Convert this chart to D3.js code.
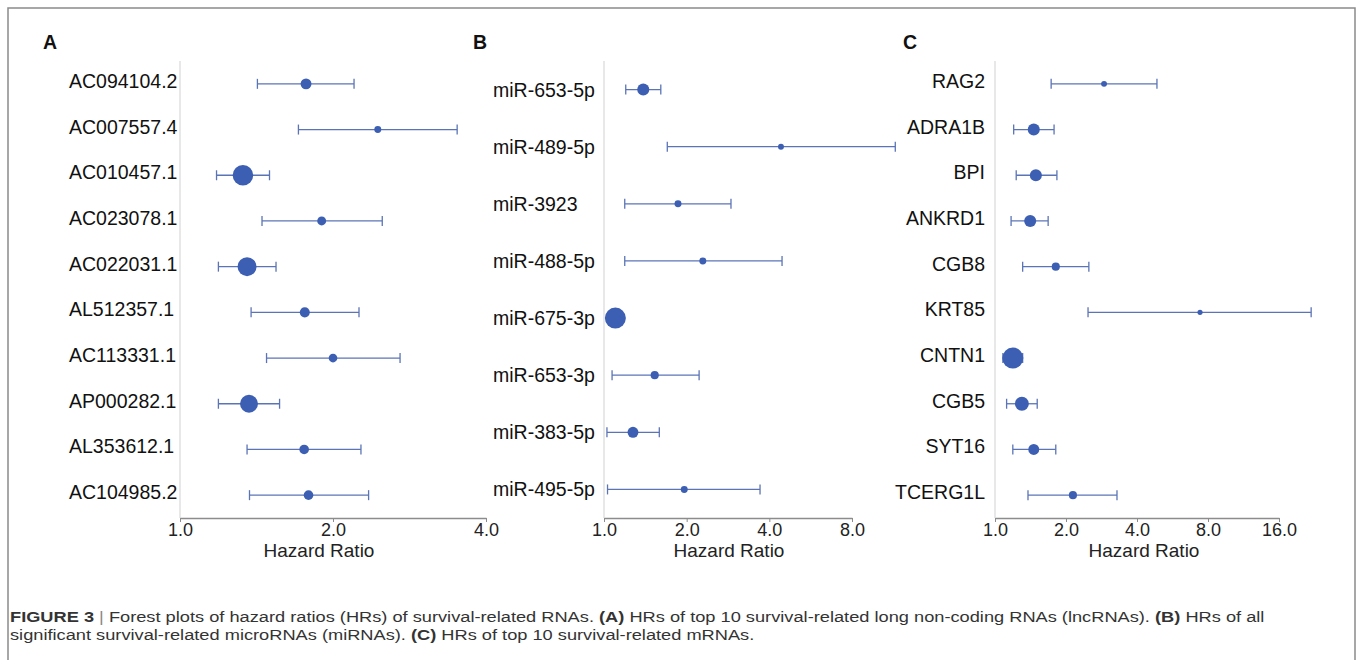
<!DOCTYPE html>
<html>
<head>
<meta charset="utf-8">
<script src="https://cdn.jsdelivr.net/npm/d3@7"></script>
<style>
  body { margin: 0; background: #fff; }
  text { font-family: "Liberation Sans", Arial, sans-serif; }
</style>
</head>
<body>
<script>
// panel A - lncRNAs
const lncNames = ['AC094104.2', 'AC007557.4', 'AC010457.1', 'AC023078.1', 'AC022031.1',
                  'AL512357.1', 'AC113331.1', 'AP000282.1', 'AL353612.1', 'AC104985.2'];
const lncHR    = [1.77, 2.45, 1.33, 1.90, 1.355, 1.76, 2.00, 1.367, 1.755, 1.79];
const lncLow   = [1.42, 1.71, 1.18, 1.45, 1.19, 1.38, 1.48, 1.19, 1.355, 1.37];
const lncHigh  = [2.20, 3.51, 1.50, 2.50, 1.545, 2.25, 2.71, 1.57, 2.27, 2.35];
const lncWeight = [27, 11, 96, 18, 82, 23, 17, 73, 21, 21];

// panel B - miRNAs
const mirNames = ['miR-653-5p', 'miR-489-5p', 'miR-3923', 'miR-488-5p',
                  'miR-675-3p', 'miR-653-3p', 'miR-383-5p', 'miR-495-5p'];
const mirHR    = [1.39, 4.41, 1.86, 2.29, 1.10, 1.53, 1.275, 1.96];
const mirLow   = [1.20, 1.70, 1.19, 1.19, 1.05, 1.07, 1.025, 1.03];
const mirHigh  = [1.61, 11.5, 2.90, 4.45, 1.15, 2.22, 1.59, 3.70];
const mirWeight = [33, 8, 11, 11, 100, 15, 27, 11];

// panel C - mRNAs
const mrnaNames = ['RAG2', 'ADRA1B', 'BPI', 'ANKRD1', 'CGB8',
                   'KRT85', 'CNTN1', 'CGB5', 'SYT16', 'TCERG1L'];
const mrnaHR    = [2.90, 1.46, 1.49, 1.41, 1.81, 7.40, 1.19, 1.30, 1.46, 2.14];
const mrnaLow   = [1.73, 1.20, 1.23, 1.17, 1.31, 2.48, 1.08, 1.12, 1.19, 1.38];
const mrnaHigh  = [4.86, 1.78, 1.83, 1.68, 2.50, 21.9, 1.31, 1.51, 1.81, 3.29];
const mrnaWeight = [8, 33, 33, 33, 15, 6, 100, 44, 27, 15];

// axis ticks
const ticksA = [1, 2, 4];
const ticksB = [1, 2, 4, 8];
const ticksC = [1, 2, 4, 8, 16];

const W = 1357, H = 660;
const svg = d3.select('body').append('svg').attr('width', W).attr('height', H);

// frame
svg.append('path')
   .attr('d', 'M8,' + H + 'V8H1355V' + H)
   .attr('fill', 'none').attr('stroke', '#8a8a8a').attr('stroke-width', 1.5);

const plotTop = 61, axisY = 518;
const dotColor = '#3c5fb3', barColor = '#5b74b6';
const r = d3.scaleSqrt().domain([0, 100]).range([0, 10.5]);

const panels = [
  {letter: 'A', lx: 43, names: lncNames, hr: lncHR, lo: lncLow, hi: lncHigh, w: lncWeight,
   ticks: ticksA, x0: 180, x1: 486, labelX: 69, anchor: 'start', dy: 4, titleX: 319},
  {letter: 'B', lx: 473, names: mirNames, hr: mirHR, lo: mirLow, hi: mirHigh, w: mirWeight,
   ticks: ticksB, x0: 604, x1: 852, labelX: 493, anchor: 'start', dy: 7, titleX: 729},
  {letter: 'C', lx: 903, names: mrnaNames, hr: mrnaHR, lo: mrnaLow, hi: mrnaHigh, w: mrnaWeight,
   ticks: ticksC, x0: 995, x1: 1279, labelX: 985, anchor: 'end', dy: 4, titleX: 1144}
];

panels.forEach(p => {
  const g = svg.append('g');
  const x = d3.scaleLog().base(2).domain([p.ticks[0], p.ticks[p.ticks.length - 1]]).range([p.x0, p.x1]);
  const y = d3.scalePoint().domain(p.names).range([plotTop, axisY]).padding(0.5);
  const rows = p.names.map((n, i) => ({name: n, hr: p.hr[i], lo: p.lo[i], hi: p.hi[i], w: p.w[i]}));

  g.append('text').attr('x', p.lx).attr('y', 49)
   .attr('font-size', 19.5).attr('font-weight', 'bold').attr('fill', '#111')
   .text(p.letter);

  // reference line at HR = 1
  g.append('line')
   .attr('x1', x(1)).attr('x2', x(1)).attr('y1', plotTop).attr('y2', axisY)
   .attr('stroke', '#d9d9d9').attr('stroke-width', 1.2);

  // row labels
  g.selectAll('.lab').data(rows).join('text')
   .attr('class', 'lab')
   .attr('x', p.labelX).attr('y', d => y(d.name) + p.dy)
   .attr('text-anchor', p.anchor)
   .attr('font-size', 19.5).attr('fill', '#111')
   .text(d => d.name);

  // confidence intervals
  const ci = g.selectAll('.ci').data(rows).join('g').attr('class', 'ci')
              .attr('stroke', barColor).attr('stroke-width', 1.3);
  ci.append('line').attr('x1', d => x(d.lo)).attr('x2', d => x(d.hi))
    .attr('y1', d => y(d.name)).attr('y2', d => y(d.name));
  ci.append('line').attr('x1', d => x(d.lo)).attr('x2', d => x(d.lo))
    .attr('y1', d => y(d.name) - 5).attr('y2', d => y(d.name) + 5);
  ci.append('line').attr('x1', d => x(d.hi)).attr('x2', d => x(d.hi))
    .attr('y1', d => y(d.name) - 5).attr('y2', d => y(d.name) + 5);

  // point estimates
  g.selectAll('.dot').data(rows).join('circle')
   .attr('class', 'dot')
   .attr('cx', d => x(d.hr)).attr('cy', d => y(d.name))
   .attr('r', d => r(d.w))
   .attr('fill', dotColor);

  // x axis
  const ax = g.append('g').attr('transform', 'translate(0,' + axisY + ')')
    .call(d3.axisBottom(x).tickValues(p.ticks).tickFormat(d3.format('.1f'))
            .tickSize(4).tickSizeOuter(0).tickPadding(1));
  ax.select('.domain').attr('stroke', '#8c8c8c').attr('stroke-width', 1.3);
  ax.selectAll('.tick line').attr('stroke', '#8c8c8c');
  ax.selectAll('.tick text').attr('font-size', 18).attr('fill', '#222')
    .attr('font-family', '"Liberation Sans", Arial, sans-serif');

  g.append('text').attr('x', p.titleX).attr('y', 557)
   .attr('text-anchor', 'middle').attr('font-size', 19).attr('fill', '#222')
   .text('Hazard Ratio');
});

// caption
const cap = svg.append('g').attr('font-family', '"Liberation Sans Narrow", "Liberation Sans", sans-serif')
               .attr('font-size', 15.5).attr('fill', '#333');
const line1 = cap.append('text').attr('x', 0).attr('y', 0);
line1.append('tspan').attr('font-weight', 'bold').text('FIGURE 3');
line1.append('tspan').attr('fill', '#888').text(' | ');
line1.append('tspan').text('Forest plots of hazard ratios (HRs) of survival-related RNAs. ');
line1.append('tspan').attr('font-weight', 'bold').text('(A)');
line1.append('tspan').text(' HRs of top 10 survival-related long non-coding RNAs (lncRNAs). ');
line1.append('tspan').attr('font-weight', 'bold').text('(B)');
line1.append('tspan').text(' HRs of all');
const line2 = cap.append('text').attr('x', 0).attr('y', 18.5);
line2.append('tspan').text('significant survival-related microRNAs (miRNAs). ');
line2.append('tspan').attr('font-weight', 'bold').text('(C)');
line2.append('tspan').text(' HRs of top 10 survival-related mRNAs.');
const k = 1256 / line1.node().getComputedTextLength();
cap.attr('transform', 'translate(10,622) scale(' + k + ',1)');
</script>
</body>
</html>
